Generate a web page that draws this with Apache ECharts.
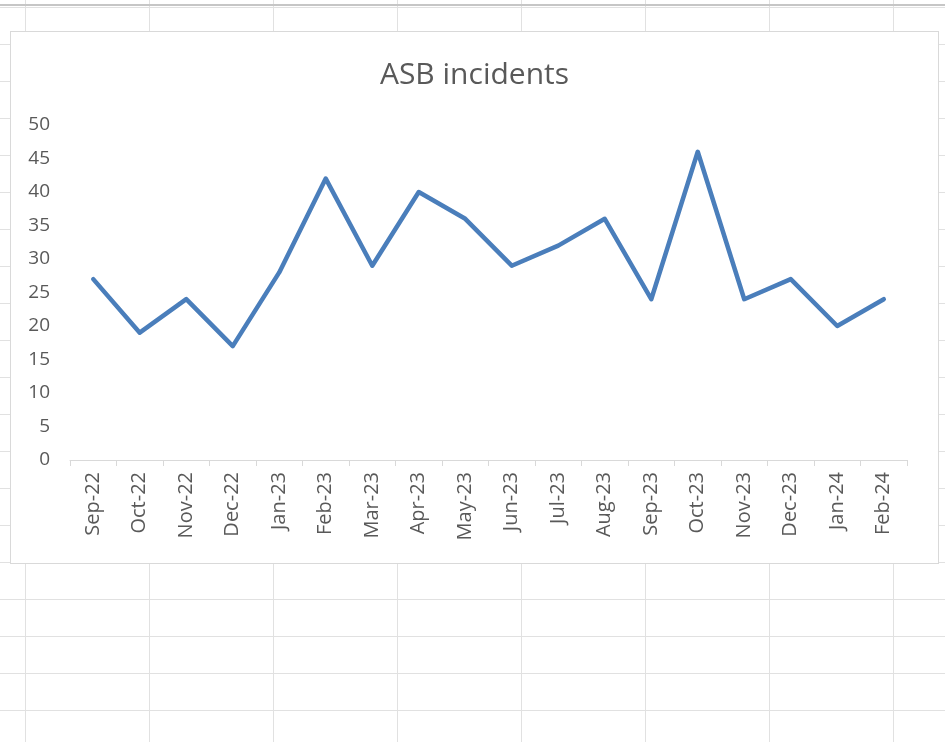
<!DOCTYPE html>
<html>
<head>
<meta charset="utf-8">
<script src="https://cdn.jsdelivr.net/npm/echarts@6/dist/echarts.min.js"></script>
<style>
	html, body {
		margin: 0;
		padding: 0;
		width: 945px;
		height: 742px;
		overflow: hidden;
		background-color: #ffffff;
		/* spreadsheet cells behind the chart */
		background-image:
			linear-gradient(to right, #e1e1e1 1px, transparent 1px),
			linear-gradient(to bottom, #e1e1e1 1px, transparent 1px);
		background-size: 124px 37px, 124px 37px;
		background-position: 25px 0, 0 7px;
	}
	#topline {
		position: absolute;
		left: 0;
		top: 4px;
		width: 945px;
		height: 2px;
		background: #c6c6c6;
	}
	#chart {
		position: absolute;
		left: 10px;
		top: 31px;
		width: 929px;
		height: 533px;
		background: #ffffff;
		border: 1px solid #d9d9d9;
		box-sizing: border-box;
	}
</style>
</head>
<body>
<div id="topline"></div>
<div id="chart"></div>
<script>
	'use strict';

	var months = ['Sep-22', 'Oct-22', 'Nov-22', 'Dec-22', 'Jan-23', 'Feb-23', 'Mar-23', 'Apr-23', 'May-23',
		'Jun-23', 'Jul-23', 'Aug-23', 'Sep-23', 'Oct-23', 'Nov-23', 'Dec-23', 'Jan-24', 'Feb-24'];

	var incidents = [27, 19, 24, 17, 28, 42, 29, 40, 36, 29, 32, 36, 24, 46, 24, 27, 20, 24];

	var textColor = '#595959';
	var font = '"Open Sans", "Noto Sans", sans-serif';

	var myChart = echarts.init(document.getElementById('chart'));

	var option = {
		animation: false,
		title: {
			text: 'ASB incidents',
			left: 'center',
			top: 23,
			textStyle: {
				color: textColor,
				fontFamily: font,
				fontSize: 30,
				fontWeight: 'normal'
			}
		},
		grid: {
			left: 59,
			right: 31,
			top: 93,
			bottom: 103
		},
		xAxis: {
			type: 'category',
			data: months,
			boundaryGap: true,
			axisLine: { lineStyle: { color: '#d9d9d9', width: 1 } },
			axisTick: { show: true, length: 6, lineStyle: { color: '#d9d9d9' } },
			axisLabel: {
				rotate: 90,
				margin: 12,
				color: textColor,
				fontFamily: font,
				fontSize: 20
			},
			splitLine: { show: false }
		},
		yAxis: {
			type: 'value',
			min: 0,
			max: 50,
			interval: 5,
			axisLine: { show: false },
			axisTick: { show: false },
			splitLine: { show: false },
			axisLabel: {
				margin: 20,
				color: textColor,
				fontFamily: font,
				fontSize: 19
			}
		},
		series: [
			{
				type: 'line',
				data: incidents,
				symbol: 'none',
				lineStyle: { color: '#4a7ebb', width: 4.5, join: 'round', cap: 'round' }
			}
		]
	};

	myChart.setOption(option);
</script>
</body>
</html>
